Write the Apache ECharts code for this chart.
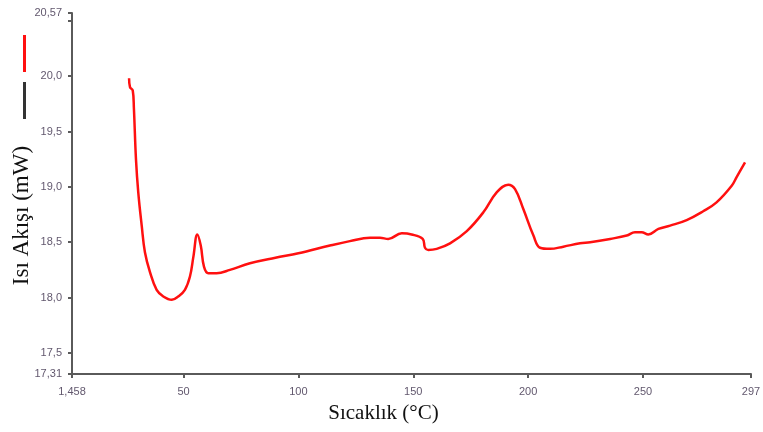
<!DOCTYPE html>
<html>
<head>
<meta charset="utf-8">
<script src="https://cdn.jsdelivr.net/npm/echarts@6/dist/echarts.min.js"></script>
<style>
  html, body { margin: 0; padding: 0; background: #fff; }
  #chart { width: 763px; height: 432px; }
</style>
</head>
<body>
<div id="chart"></div>
<script>
// temperature (°C) and heat flow (mW)
var temp_list = [26.3, 26.7, 27.9, 28.4, 29.3, 30.3, 31.8, 33.2, 35.4, 38.3, 41.2, 44.9, 47.7, 50.6, 52.8, 54.3, 56.0, 57.5, 58.9, 60.8,
    64.4, 70.2, 78.9, 90, 100, 113.7, 122.4, 131.2, 135.5, 139.1, 145.0, 149.3, 154.1, 155.1, 156.5, 160.2, 166.0, 173.3, 180.5, 186.3,
    191.3, 194.3, 197.9, 202.3, 205.2, 209.5, 215.3, 222.6, 227.0, 235.7, 242.9, 246.5, 249.4, 252.3, 256.7, 261.8, 269.0, 276.2, 282.0,
    288.6, 290.8, 294.4];
var flow_list = [19.98, 19.90, 19.87, 19.71, 19.25, 18.95, 18.65, 18.41, 18.23, 18.07, 18.01, 17.98, 18.01, 18.07, 18.19, 18.37, 18.57, 18.47, 18.28, 18.22,
    18.22, 18.25, 18.31, 18.36, 18.40, 18.47, 18.51, 18.54, 18.54, 18.53, 18.58, 18.57, 18.53, 18.45, 18.43, 18.44, 18.49, 18.60, 18.77, 18.95,
    19.02, 18.98, 18.80, 18.56, 18.45, 18.44, 18.46, 18.49, 18.50, 18.53, 18.56, 18.59, 18.59, 18.57, 18.62, 18.65, 18.70, 18.78, 18.86,
    19.01, 19.09, 19.22];

var x_ticks = [1.458, 50, 100, 150, 200, 250, 297];
var y_ticks = [17.31, 17.5, 18.0, 18.5, 19.0, 19.5, 20.0, 20.5, 20.57];
var y_labels = [17.31, 17.5, 18.0, 18.5, 19.0, 19.5, 20.0, 20.57];

function generateDscChart(){
    var chartDom = document.getElementById('chart');
    var myChart = echarts.init(chartDom);
    var option;

    var points = temp_list.map(function (t, i) { return [t, flow_list[i]]; });
    var labelColor = '#62586e';
    var axisColor = '#5a5a5a';

    option = {
        animation: false,
        grid: { left: 72, right: 12, top: 13, bottom: 58, outerBoundsMode: 'none' },
        legend: {
            orient: 'vertical',
            left: 23,
            top: 35,
            padding: 0,
            icon: 'rect',
            itemWidth: 3,
            itemHeight: 37,
            itemGap: 10,
            formatter: function () { return ''; },
            data: ['dsc', 'ref']
        },
        xAxis: {
            type: 'value',
            min: 1.458,
            max: 297,
            name: 'Sıcaklık (°C)',
            nameLocation: 'middle',
            nameGap: 29,
            nameTextStyle: {
                fontFamily: 'Liberation Serif',
                fontSize: 21,
                color: '#111',
                padding: [0, 56, 0, 0]
            },
            axisLine: { lineStyle: { color: axisColor, width: 2 } },
            axisTick: { show: true, length: 4, customValues: x_ticks, lineStyle: { color: axisColor, width: 2 } },
            axisLabel: {
                customValues: x_ticks,
                margin: 12,
                fontFamily: 'Liberation Sans',
                fontSize: 11,
                color: labelColor,
                formatter: function (v) { return String(v).replace('.', ','); }
            },
            splitLine: { show: false }
        },
        yAxis: {
            type: 'value',
            min: 17.31,
            max: 20.57,
            name: 'Isı Akışı (mW)',
            nameLocation: 'middle',
            nameGap: 39,
            nameMoveOverlap: false,
            nameTextStyle: {
                fontFamily: 'Liberation Serif',
                fontSize: 23,
                color: '#111',
                padding: [0, 44, 0, 0]
            },
            axisLine: { show: true, lineStyle: { color: axisColor, width: 2 } },
            axisTick: { show: true, length: 4, customValues: y_ticks, lineStyle: { color: axisColor, width: 2 } },
            axisLabel: {
                customValues: y_labels,
                margin: 10,
                fontFamily: 'Liberation Sans',
                fontSize: 11,
                color: labelColor,
                formatter: function (v) {
                    var s = Number.isInteger(Math.round(v * 100) / 10) ? v.toFixed(1) : String(v);
                    return s.replace('.', ',');
                }
            },
            splitLine: { show: false }
        },
        series: [
            {
                name: 'dsc',
                type: 'line',
                data: points,
                showSymbol: false,
                smooth: 0.4,
                color: '#ff1010',
                lineStyle: { color: '#ff1010', width: 2.5 }
            },
            {
                name: 'ref',
                type: 'line',
                data: [],
                showSymbol: false,
                color: '#333',
                lineStyle: { color: '#333', width: 2 }
            }
        ]
    };

    option && myChart.setOption(option);
}

generateDscChart();
</script>
</body>
</html>
